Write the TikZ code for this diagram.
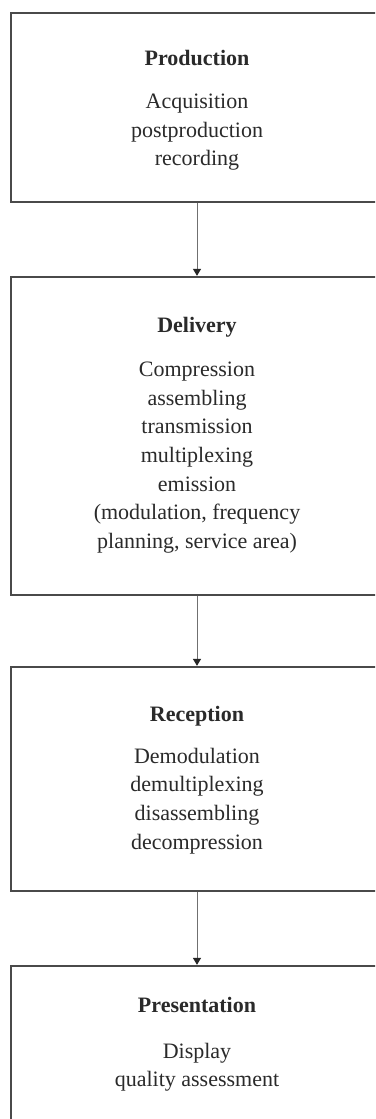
\documentclass[tikz,border=0pt]{standalone}
\usepackage{fontspec}
\setmainfont{Liberation Serif}
\usetikzlibrary{arrows.meta}
\definecolor{boxline}{HTML}{4A4A4A}
\definecolor{arrline}{HTML}{707070}
\definecolor{txt}{HTML}{2A2A2A}
\tikzset{
  stagebox/.style={draw=boxline, line width=1.3pt, rectangle, inner sep=0pt,
    minimum width=372pt},
  head/.style={anchor=base, inner sep=0pt, text=txt,
    font=\fontsize{22}{28.7}\selectfont\bfseries},
  body/.style={anchor=base, inner sep=0pt, text=txt, align=center,
    font=\fontsize{22}{28.7}\selectfont},
  flow/.style={draw=arrline, line width=1pt,
    -{Triangle[length=7pt,width=8pt,color=black!85]}, shorten >=0.5pt}
}
\begin{document}
\begin{tikzpicture}[x=1pt,y=-1pt]
\useasboundingbox (0,0) rectangle (375,1119);
\clip (0,0) rectangle (375,1119);
\fill[white] (0,0) rectangle (375,1119);

\node[stagebox, minimum height=189pt] (prod) at (197,107.5) {};
\node[stagebox, minimum height=318pt] (deliv) at (197,436) {};
\node[stagebox, minimum height=224pt] (recep) at (197,779) {};
\node[stagebox, minimum height=164pt] (pres) at (197,1048) {};

% body nodes: anchor=base is the baseline of the last line
\node[head] (h1) at (197,65.5) {Production};
\node[body] (b1) at (197,165.9) {Acquisition\\postproduction\\recording};

\node[head] (h2) at (197,332.6) {Delivery};
\node[body] (b2) at (197,548.5) {Compression\\assembling\\transmission\\multiplexing\\emission\\(modulation, frequency\\planning, service area)};

\node[head] (h3) at (197,721.3) {Reception};
\node[body] (b3) at (197,849.1) {Demodulation\\demultiplexing\\disassembling\\decompression};

\node[head] (h4) at (197,1012) {Presentation};
\node[body] (b4) at (197,1086.7) {Display\\quality assessment};

\draw[flow] (prod.south) -- (deliv.north);
\draw[flow] (deliv.south) -- (recep.north);
\draw[flow] (recep.south) -- (pres.north);
\end{tikzpicture}
\end{document}
